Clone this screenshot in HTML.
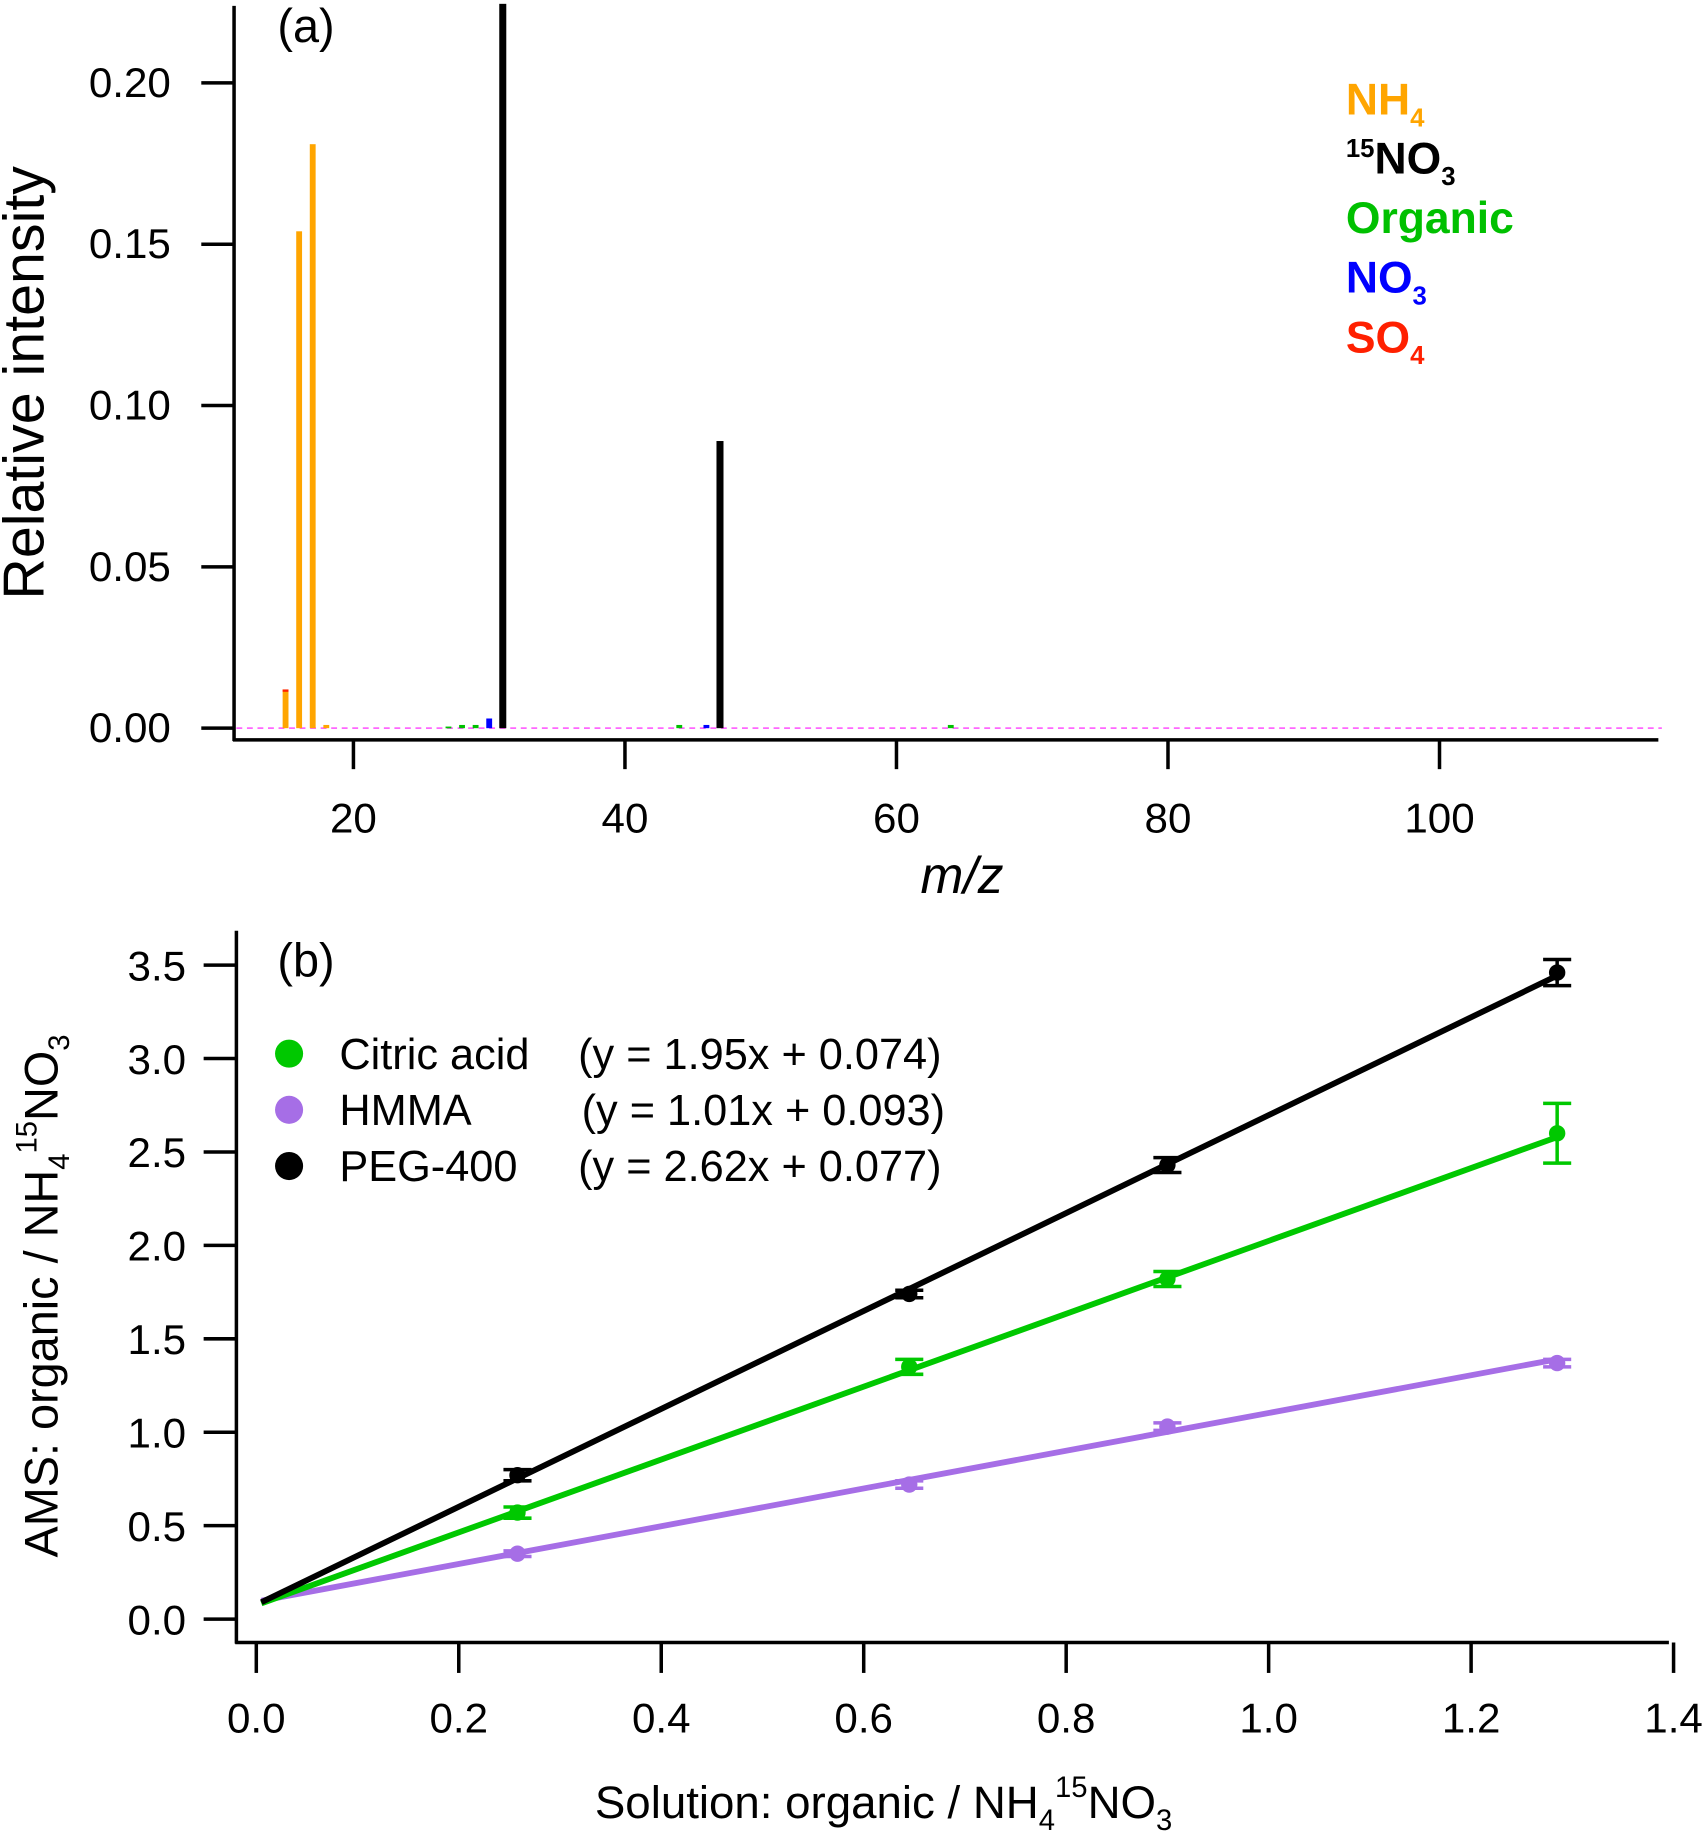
<!DOCTYPE html>
<html><head><meta charset="utf-8"><style>
html,body{margin:0;padding:0;background:#fff}
svg{display:block;font-family:"Liberation Sans",Arial,sans-serif}
</style></head><body>
<svg id="fig" width="1704" height="1838" viewBox="0 0 1456 1570" preserveAspectRatio="none">
<g id="pa"></g>
<g id="pb"></g>
</svg>
<script>
// Panel a data
const mzValues = [15, 16, 17, 18, 27, 28, 29, 30, 31, 44, 46, 47, 64];
const mzIntensity = [0.012, 0.154, 0.181, 0.001, 0.0005, 0.001, 0.001, 0.003, 0.225, 0.001, 0.001, 0.089, 0.001];
const mzSpecies = ['NH4', 'NH4', 'NH4', 'NH4', 'Organic', 'Organic', 'Organic', 'NO3', '15NO3', 'Organic', 'NO3', '15NO3', 'Organic'];
const aXTicks = [20, 40, 60, 80, 100];
const aYTicks = [0, 0.05, 0.10, 0.15, 0.20];
const aYTickLabels = ['0.00', '0.05', '0.10', '0.15', '0.20'];
// Panel b data
const solRatio = [0.258, 0.645, 0.9, 1.285];
const citricVals = [0.57, 1.35, 1.82, 2.60];
const citricErr = [0.03, 0.04, 0.04, 0.16];
const hmmaVals = [0.35, 0.72, 1.03, 1.37];
const hmmaErr = [0.015, 0.02, 0.02, 0.02];
const pegVals = [0.77, 1.74, 2.43, 3.46];
const pegErr = [0.03, 0.02, 0.04, 0.07];
const citricFit = [1.95, 0.074];
const hmmaFit = [1.01, 0.093];
const pegFit = [2.62, 0.077];
const bXTicks = [0, 0.2, 0.4, 0.6, 0.8, 1.0, 1.2, 1.4];
const bXTickLabels = ['0.0', '0.2', '0.4', '0.6', '0.8', '1.0', '1.2', '1.4'];
const bYTicks = [0, 0.5, 1.0, 1.5, 2.0, 2.5, 3.0, 3.5];
const bYTickLabels = ['0.0', '0.5', '1.0', '1.5', '2.0', '2.5', '3.0', '3.5'];

const NS = 'http://www.w3.org/2000/svg';
function mk(parent, tag, attrs, txt) {
  const e = document.createElementNS(NS, tag);
  for (const k in attrs) e.setAttribute(k, attrs[k]);
  if (txt !== undefined) e.textContent = txt;
  parent.appendChild(e);
  return e;
}
const colors = {NH4: '#FFA500', '15NO3': '#000', Organic: '#00C000', NO3: '#0000FF', SO4: '#FF2000'};

// ---------- Panel A ----------
const pa = document.getElementById('pa');
const ax = v => 70 + v * 11.6;
const ay = v => 622 - v * 2756;
let e;
e = mk(pa, 'line', {x1: 200, y1: 5, x2: 200, y2: 633, stroke: '#000', 'stroke-width': 3});
 
e = mk(pa, 'line', {x1: 199, y1: 632, x2: 1417, y2: 632, stroke: '#000', 'stroke-width': 3});
 
e = mk(pa, 'line', {x1: 202, y1: 622, x2: 1420, y2: 622, stroke: '#ff66ff', 'stroke-width': 1.5, 'stroke-dasharray': '5,4'});
 
aXTicks.forEach(t => {
  e = mk(pa, 'line', {x1: ax(t), y1: 632, x2: ax(t), y2: 657, stroke: '#000', 'stroke-width': 3});
   
  e = mk(pa, 'text', {x: ax(t), y: 711, 'font-size': 36, 'text-anchor': 'middle'}, String(t));
   
});
aYTicks.forEach((t, i) => {
  e = mk(pa, 'line', {x1: 172, y1: ay(t), x2: 200, y2: ay(t), stroke: '#000', 'stroke-width': 3});
   
  e = mk(pa, 'text', {x: 146, y: ay(t) + 12, 'font-size': 36, 'text-anchor': 'end'}, aYTickLabels[i]);
   
});
mzValues.forEach((m, i) => {
  const v = Math.min(mzIntensity[i], 0.2245);
  const w = mzSpecies[i] === '15NO3' ? 6 : 5;
  e = mk(pa, 'rect', {x: ax(m) - w / 2, y: ay(v), width: w, height: Math.max(ay(0) - ay(v), 1.5), fill: colors[mzSpecies[i]]});
   
  if (m === 15) {
    e = mk(pa, 'rect', {x: ax(m) - w / 2, y: ay(v), width: w, height: 2, fill: colors.SO4});
     
  }
});
e = mk(pa, 'text', {x: 237, y: 36, 'font-size': 40}, '(a)');
 
e = mk(pa, 'text', {x: 822, y: 763, 'font-size': 44, 'font-style': 'italic', 'text-anchor': 'middle'}, 'm/z');
 
e = mk(pa, 'text', {x: 0, y: 0, 'font-size': 49, 'text-anchor': 'middle', transform: 'translate(37,327) rotate(-90)'}, 'Relative intensity');
 
const legA = [['NH', '4', 'NH4', 98, ''], ['NO', '3', '15NO3', 148, '15'], ['Organic', '', 'Organic', 199, ''], ['NO', '3', 'NO3', 250, ''], ['SO', '4', 'SO4', 301, '']];
legA.forEach(l => {
  const t = mk(pa, 'text', {x: 1150, y: l[3], 'font-size': 38, 'font-weight': 'bold', fill: colors[l[2]]});
   
  if (l[4]) mk(t, 'tspan', {'font-size': 22, dy: -14}, l[4]);
  mk(t, 'tspan', l[4] ? {dy: 14} : {}, l[0]);
  if (l[1]) mk(t, 'tspan', {'font-size': 22, dy: 10}, l[1]);
});

// ---------- Panel B ----------
const pb = document.getElementById('pb');
const bx = v => 219 + v * 865;
const by = v => 1383 - v * 159.6;
e = mk(pb, 'line', {x1: 202, y1: 795, x2: 202, y2: 1404, stroke: '#000', 'stroke-width': 3});
 
e = mk(pb, 'line', {x1: 201, y1: 1403, x2: 1426, y2: 1403, stroke: '#000', 'stroke-width': 3});
 
bXTicks.forEach((t, i) => {
  e = mk(pb, 'line', {x1: bx(t), y1: 1403, x2: bx(t), y2: 1429, stroke: '#000', 'stroke-width': 3});
   
  e = mk(pb, 'text', {x: bx(t), y: 1480, 'font-size': 36, 'text-anchor': 'middle'}, bXTickLabels[i]);
   
});
bYTicks.forEach((t, i) => {
  e = mk(pb, 'line', {x1: 174, y1: by(t), x2: 202, y2: by(t), stroke: '#000', 'stroke-width': 3});
   
  e = mk(pb, 'text', {x: 159, y: by(t) + 13, 'font-size': 36, 'text-anchor': 'end'}, bYTickLabels[i]);
   
});
const series = [
  ['hmma', hmmaVals, hmmaErr, hmmaFit, '#A66EE6'],
  ['citric-acid', citricVals, citricErr, citricFit, '#00C800'],
  ['peg-400', pegVals, pegErr, pegFit, '#000']
];
series.forEach(s => {
  const [name, vals, err, fit, col] = s;
  const x0 = 0.005, x1 = solRatio[solRatio.length - 1];
  e = mk(pb, 'line', {x1: bx(x0), y1: by(fit[0] * x0 + fit[1]), x2: bx(x1), y2: by(fit[0] * x1 + fit[1]), stroke: col, 'stroke-width': 5});
   
  solRatio.forEach((xv, i) => {
    const g = mk(pb, 'g', {});
     
    const cx = bx(xv), yt = by(vals[i] + err[i]), yb = by(vals[i] - err[i]);
    mk(g, 'line', {x1: cx, y1: yt, x2: cx, y2: yb, stroke: col, 'stroke-width': 3});
    mk(g, 'line', {x1: cx - 12, y1: yt, x2: cx + 12, y2: yt, stroke: col, 'stroke-width': 3});
    mk(g, 'line', {x1: cx - 12, y1: yb, x2: cx + 12, y2: yb, stroke: col, 'stroke-width': 3});
    mk(g, 'circle', {cx: cx, cy: by(vals[i]), r: 7, fill: col});
  });
});
e = mk(pb, 'text', {x: 237, y: 834, 'font-size': 40}, '(b)');
 
const legB = [['Citric acid', '(y = 1.95x + 0.074)', '#00C800', 900, 494], ['HMMA', '(y = 1.01x + 0.093)', '#A66EE6', 948, 497], ['PEG-400', '(y = 2.62x + 0.077)', '#000', 996, 494]];
legB.forEach(l => {
  const g = mk(pb, 'g', {});
   
  mk(g, 'circle', {cx: 247, cy: l[3], r: 12, fill: l[2]});
  mk(g, 'text', {x: 290, y: l[3] + 13, 'font-size': 37}, l[0]);
  mk(g, 'text', {x: l[4], y: l[3] + 13, 'font-size': 37}, l[1]);
});
// axis titles
let t = mk(pb, 'text', {x: 755, y: 1553, 'font-size': 39, 'text-anchor': 'middle'});
 
mk(t, 'tspan', {}, 'Solution: organic / NH');
mk(t, 'tspan', {'font-size': 25, dy: 10}, '4');
mk(t, 'tspan', {'font-size': 25, dy: -28}, '15');
mk(t, 'tspan', {dy: 18}, 'NO');
mk(t, 'tspan', {'font-size': 25, dy: 10}, '3');
t = mk(pb, 'text', {x: 0, y: 0, 'font-size': 40, 'text-anchor': 'middle', transform: 'translate(49,1107) rotate(-90)'});
 
mk(t, 'tspan', {}, 'AMS: organic / NH');
mk(t, 'tspan', {'font-size': 25, dy: 10}, '4');
mk(t, 'tspan', {'font-size': 25, dy: -28}, '15');
mk(t, 'tspan', {dy: 18}, 'NO');
mk(t, 'tspan', {'font-size': 25, dy: 10}, '3');
</script>
</body></html>
